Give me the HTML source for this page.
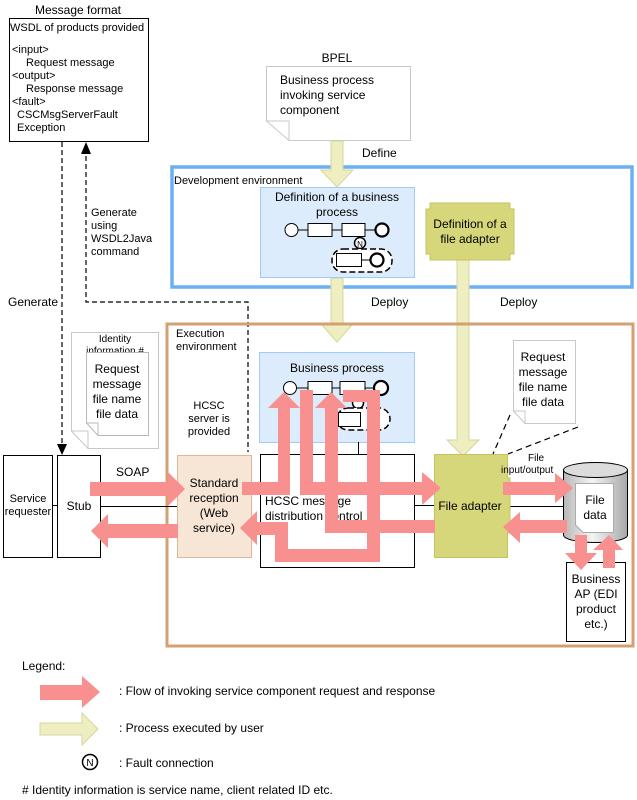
<!DOCTYPE html>
<html><head><meta charset="utf-8"><style>
body{margin:0;background:#fff}
svg{display:block;font-family:"Liberation Sans",sans-serif;font-size:11px}
</style></head><body>
<svg width="637" height="800" viewBox="0 0 637 800" xmlns="http://www.w3.org/2000/svg">
<defs>
<linearGradient id="cyl" x1="0" x2="1" y1="0" y2="0">
<stop offset="0" stop-color="#b8b8b8"/><stop offset="0.45" stop-color="#f4f4f4"/><stop offset="1" stop-color="#a8a8a8"/>
</linearGradient>
</defs>

<text x="78" y="14" text-anchor="middle" font-size="12">Message format</text>
<rect x="9.5" y="18.5" width="139" height="123" fill="#fff" stroke="#000"/>
<text x="10" y="31">WSDL of products provided</text>
<text x="12" y="53">&lt;input&gt;</text>
<text x="26" y="66">Request message</text>
<text x="12" y="79">&lt;output&gt;</text>
<text x="26" y="92">Response message</text>
<text x="12" y="105">&lt;fault&gt;</text>
<text x="17" y="118">CSCMsgServerFault</text>
<text x="17" y="131">Exception</text>

<g stroke="#000" stroke-dasharray="5,3" fill="none" stroke-width="1.2">
<line x1="62" y1="142" x2="62" y2="446"/>
<polyline points="86,156 86,302 248,302 248,452"/>
</g>
<polygon points="57,444 67,444 62,455" fill="#000"/>
<polygon points="81,154 91,154 86,142" fill="#000"/>
<text x="8" y="306" font-size="12">Generate</text>
<text x="91" y="216">Generate</text>
<text x="91" y="229">using</text>
<text x="91" y="242">WSDL2Java</text>
<text x="91" y="255">command</text>

<text x="337" y="62" text-anchor="middle" font-size="12">BPEL</text>
<path d="M266.5,66.5 H410.5 V140.5 H289 L266.5,121 Z" fill="#fff" stroke="#c8c8c8"/>
<path d="M266.5,121 H289 V140.5" fill="none" stroke="#c8c8c8"/>
<text x="280" y="84" font-size="12">Business process</text>
<text x="280" y="99" font-size="12">invoking service</text>
<text x="280" y="114" font-size="12">component</text>
<text x="362" y="157" font-size="12">Define</text>

<rect x="172" y="167" width="460" height="120" fill="none" stroke="#6cb0f4" stroke-width="3.5"/>
<text x="174" y="184">Development environment</text>

<g fill="#eeeec0" stroke="#d6d6a0">
<polygon points="331,141 343,141 343,170 353,170 337,187 321,170 331,170"/>
<polygon points="331,278 343,278 343,324 353,324 337,342 321,324 331,324"/>
<polygon points="457,260 469,260 469,440 479,440 463,456 447,440 457,440"/>
</g>

<rect x="260.5" y="187.5" width="154" height="90" fill="#dcecfc" stroke="#a0ccf4"/>
<text x="337" y="201" text-anchor="middle" font-size="12">Definition of a business</text>
<text x="337" y="216" text-anchor="middle" font-size="12">process</text>
<g stroke="#000" fill="#fff">
<line x1="291" y1="230" x2="382" y2="230"/>
<circle cx="291.5" cy="230" r="6.5"/>
<rect x="308" y="223.5" width="24" height="13"/>
<rect x="342" y="223.5" width="23" height="13"/>
<circle cx="382" cy="230" r="6.5" stroke-width="2.2"/>
<circle cx="360" cy="243" r="5.5" stroke-width="1.5"/>
<rect x="332" y="249" width="60" height="23" rx="11" stroke-dasharray="6,3" stroke-width="1.5"/>
<line x1="361" y1="260" x2="377" y2="260"/>
<rect x="336.5" y="253.5" width="25" height="13"/>
<circle cx="377" cy="260" r="6.5" stroke-width="2.2"/>
</g>
<text x="360" y="247" text-anchor="middle" font-size="8">N</text>

<path d="M430,203 H510 V209 H514 V254 H510 V260 H430 V254 H426 V209 H430 Z" fill="#d6d67a" stroke="#c4c45e"/>
<text x="470" y="228" text-anchor="middle" font-size="12">Definition of a</text>
<text x="470" y="243" text-anchor="middle" font-size="12">file adapter</text>

<text x="371" y="306" font-size="12">Deploy</text>
<text x="500" y="306" font-size="12">Deploy</text>

<rect x="167" y="324" width="466" height="322" fill="none" stroke="#d4a070" stroke-width="3"/>
<text x="176" y="337">Execution</text>
<text x="176" y="350">environment</text>
<text x="209" y="409" text-anchor="middle">HCSC</text>
<text x="209" y="422" text-anchor="middle">server is</text>
<text x="209" y="435" text-anchor="middle">provided</text>

<path d="M71.5,332.5 H158.5 V448.5 H88 L71.5,431 Z" fill="#fff" stroke="#c8c8c8"/>
<path d="M71.5,431 H88 V448.5" fill="none" stroke="#c8c8c8"/>
<text x="115" y="342" text-anchor="middle" font-size="10">Identity</text>
<text x="115" y="354" text-anchor="middle" font-size="10">information #</text>
<path d="M86.5,352.5 H148.5 V435.5 H98 L86.5,423 Z" fill="#fff" stroke="#b8b8b8"/>
<path d="M86.5,423 H98 V435.5" fill="none" stroke="#b8b8b8"/>
<text x="117" y="373" text-anchor="middle" font-size="12">Request</text>
<text x="117" y="388" text-anchor="middle" font-size="12">message</text>
<text x="117" y="403" text-anchor="middle" font-size="12">file name</text>
<text x="117" y="418" text-anchor="middle" font-size="12">file data</text>

<line x1="52" y1="505.5" x2="57" y2="505.5" stroke="#000"/>
<line x1="101" y1="506.5" x2="177" y2="506.5" stroke="#000"/>
<rect x="3.5" y="455.5" width="49" height="102" fill="#fff" stroke="#000"/>
<text x="28" y="502" text-anchor="middle">Service</text>
<text x="28" y="515" text-anchor="middle">requester</text>
<rect x="57.5" y="455.5" width="43" height="102" fill="#fff" stroke="#000"/>
<text x="79" y="510" text-anchor="middle" font-size="12">Stub</text>
<text x="116" y="476" font-size="12">SOAP</text>

<rect x="259.5" y="352.5" width="155" height="90" fill="#dcecfc" stroke="#a0ccf4"/>
<text x="337" y="372" text-anchor="middle" font-size="12">Business process</text>
<g stroke="#000" fill="#fff">
<line x1="290" y1="388" x2="381" y2="388"/>
<circle cx="290" cy="388" r="6.5"/>
<rect x="308" y="381.5" width="24" height="13"/>
<rect x="340" y="381.5" width="25" height="13"/>
<circle cx="381" cy="388" r="7" stroke-width="2.2"/>
<circle cx="358" cy="403" r="5.5" stroke-width="1.5"/>
<rect x="337" y="408" width="53" height="22" rx="11" stroke-dasharray="6,3" stroke-width="1.5"/>
<rect x="338.5" y="412.5" width="22" height="14"/>
</g>
<line x1="358.5" y1="442" x2="358.5" y2="455" stroke="#000"/>

<rect x="177.5" y="455.5" width="74" height="102" fill="#f7e6d6" stroke="#dcb898"/>
<text x="214" y="487" text-anchor="middle" font-size="12">Standard</text>
<text x="214" y="502" text-anchor="middle" font-size="12">reception</text>
<text x="214" y="517" text-anchor="middle" font-size="12">(Web</text>
<text x="214" y="532" text-anchor="middle" font-size="12">service)</text>

<rect x="260.5" y="454.5" width="154" height="113" fill="#fff" stroke="#000"/>
<text x="265" y="505" font-size="12">HCSC message</text>
<text x="265" y="520" font-size="12">distribution control</text>
<line x1="415" y1="505.5" x2="434" y2="505.5" stroke="#000"/>
<line x1="507" y1="506.5" x2="563" y2="506.5" stroke="#000"/>

<path d="M434.5,454.5 H507.5 V478 H510 V533 H507.5 V557.5 H434.5 Z" fill="#d6d67a" stroke="#c4c45e"/>
<text x="470" y="510" text-anchor="middle" font-size="12">File adapter</text>

<path d="M513.5,340.5 H575.5 V423.5 H525 L513.5,411 Z" fill="#fff" stroke="#c8c8c8"/>
<path d="M513.5,411 H525 V423.5" fill="none" stroke="#c8c8c8"/>
<text x="543" y="361" text-anchor="middle" font-size="12">Request</text>
<text x="543" y="376" text-anchor="middle" font-size="12">message</text>
<text x="543" y="391" text-anchor="middle" font-size="12">file name</text>
<text x="543" y="406" text-anchor="middle" font-size="12">file data</text>
<g stroke="#000" stroke-dasharray="6,4" stroke-width="1.2">
<line x1="510" y1="415" x2="493" y2="454"/>
<line x1="578" y1="427" x2="508" y2="454"/>
</g>
<text x="528" y="461" font-size="10">File</text>
<text x="501" y="473" font-size="10">input/output</text>

<path d="M563.5,470 V535 A32,7.5 0 0 0 627.5,535 V470" fill="url(#cyl)" stroke="#000"/>
<ellipse cx="595.5" cy="470" rx="32" ry="7.5" fill="#dcdcdc" stroke="#000"/>
<path d="M575.5,483.5 H613.5 V532.5 H583 L575.5,525 Z" fill="#fff" stroke="#aaa"/>
<text x="595" y="504" text-anchor="middle" font-size="12">File</text>
<text x="595" y="519" text-anchor="middle" font-size="12">data</text>

<rect x="566.5" y="562.5" width="59" height="79" fill="#fff" stroke="#000"/>
<text x="596" y="583" text-anchor="middle" font-size="12">Business</text>
<text x="596" y="598" text-anchor="middle" font-size="12">AP (EDI</text>
<text x="596" y="613" text-anchor="middle" font-size="12">product</text>
<text x="596" y="628" text-anchor="middle" font-size="12">etc.)</text>

<g fill="#f99090">
<polygon points="90,482 168,482 168,472 185,489 168,506 168,496 90,496"/>
<polygon points="178,524 108,524 108,514 91,531 108,548 108,538 178,538"/>
<polygon points="242,482 278,482 278,408 268,408 284,392 300,408 290,408 290,495 242,495"/>
<polygon points="300,390 313,390 313,482 422,482 422,472 441,488 422,505 422,495 300,495"/>
<polygon points="435,520 435,533 325,533 325,408 315,408 331,392 347,408 338,408 338,520"/>
<polygon points="343,390 380,390 380,562 275,562 275,535 257,535 257,545 240,528 257,511 257,522 288,522 288,549 367,549 367,402 343,402"/>
<polygon points="503,482 555,482 555,473 573,488 555,503 555,495 503,495"/>
<polygon points="567,520 520,520 520,512 503,527 520,543 520,533 567,533"/>
<polygon points="575,535 587,535 587,553 597,553 581,570 565,553 575,553"/>
<polygon points="603,568 615,568 615,550 623,550 609,535 593,550 603,550"/>
</g>

<text x="22" y="670" font-size="12">Legend:</text>
<polygon points="40,685 82,685 82,676 100,692 82,708 82,700 40,700" fill="#f99090"/>
<text x="119" y="695" font-size="12">: Flow of invoking service component request and response</text>
<polygon points="40,723 82,723 82,713 98,729 82,745 82,735 40,735" fill="#eeeec0" stroke="#d6d6a0"/>
<text x="119" y="732" font-size="12">: Process executed by user</text>
<circle cx="90" cy="762" r="7.5" fill="#fff" stroke="#000" stroke-width="1.5"/>
<text x="90" y="766" text-anchor="middle" font-size="10">N</text>
<text x="119" y="767" font-size="12">: Fault connection</text>
<text x="22" y="794" font-size="12">#  Identity information is service name, client related ID etc.</text>
</svg>
</body></html>
